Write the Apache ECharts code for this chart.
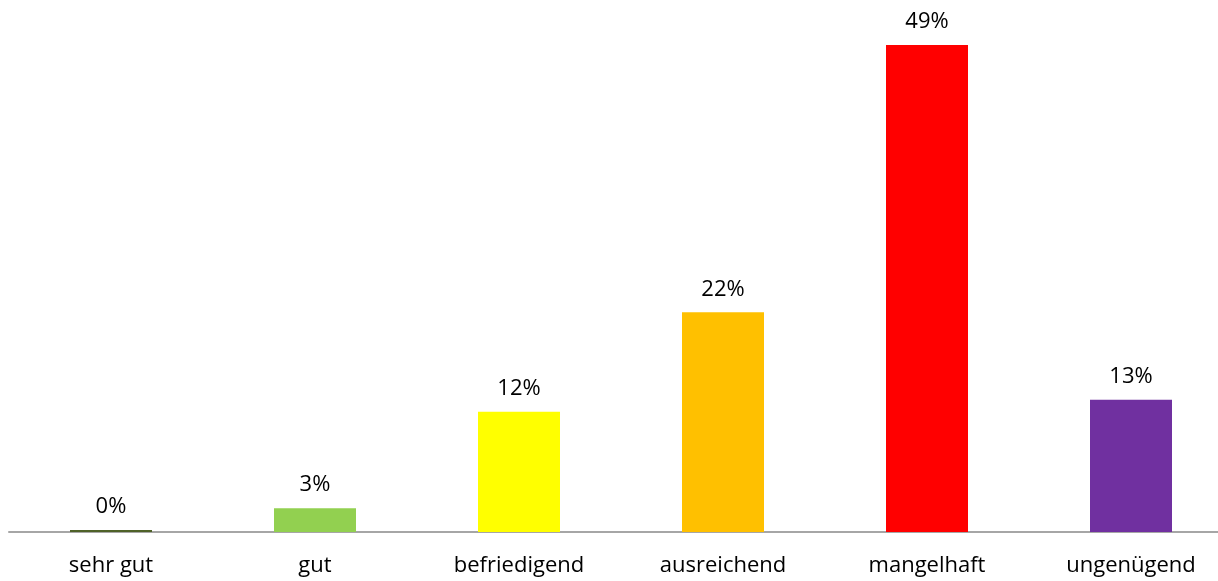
<!DOCTYPE html>
<html>
<head>
<meta charset="utf-8">
<script src="https://cdn.jsdelivr.net/npm/echarts@6/dist/echarts.min.js"></script>
<style>
    html, body { margin: 0; padding: 0; background: #fff; overflow: hidden; }
    /* etwas breiter als das Fenster: die Achse läuft rechts aus dem Bild */
    #chart { width: 1233px; height: 581px; }
</style>
</head>
<body>
<div id="chart"></div>
<script>
// Noten und Anteile (in %)
const categories = ['sehr gut', 'gut', 'befriedigend', 'ausreichend', 'mangelhaft', 'ungenügend'];
const values = [0.2, 2.4, 12.1, 22.1, 49, 13.3];
const valueLabels = ['0%', '3%', '12%', '22%', '49%', '13%'];
const barColors = ['#4F6228', '#92D050', '#FFFF00', '#FFC000', '#FF0000', '#7030A0'];

let chart = echarts.init(document.getElementById('chart'));
chart.setOption({
    animation: false,
    grid: { left: 9, right: 0, top: 35, bottom: 49 },
    xAxis: {
        type: 'category',
        data: categories,
        axisLine: { lineStyle: { color: '#a6a6a6', width: 2 } },
        axisTick: { show: false },
        axisLabel: {
            color: '#000',
            fontFamily: 'Open Sans',
            fontSize: 22,
            margin: 23,
        },
    },
    yAxis: {
        type: 'value',
        min: 0,
        max: 50,
        show: false,
        splitLine: { show: false },
    },
    series: [
        {
            type: 'bar',
            barWidth: 82,
            data: values.map((v, i) => ({ value: v, itemStyle: { color: barColors[i] } })),
            label: {
                show: true,
                position: 'top',
                distance: 12,
                color: '#000',
                fontFamily: 'Open Sans',
                fontSize: 22,
                formatter: (p) => valueLabels[p.dataIndex],
            },
        }
    ],
});
</script>
</body>
</html>
